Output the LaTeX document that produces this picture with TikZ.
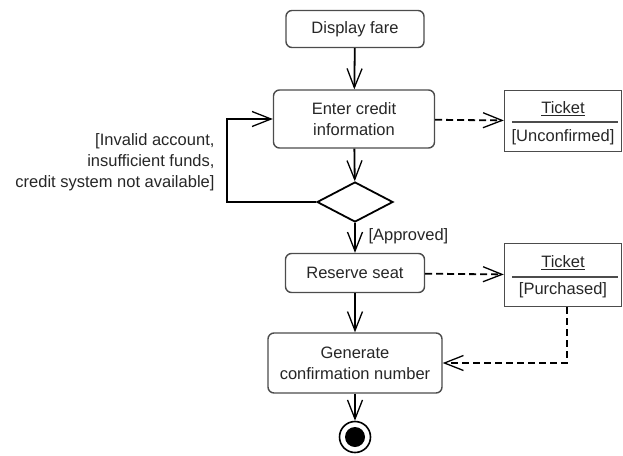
\documentclass[tikz,border=0pt]{standalone}
\usepackage{fontspec}
\setmainfont{Liberation Sans}
\usepackage{tikz}
\usetikzlibrary{arrows.meta, positioning, shapes.geometric}

\begin{document}
\begin{tikzpicture}[
  x=1pt, y=-1pt,
  font=\fontsize{16.5}{21}\selectfont,
  every node/.style={text=black!85},
  act/.style={rectangle, rounded corners=6pt, draw=black!70, line width=1.4pt,
              align=center, inner sep=2pt},
  obj/.style={rectangle, draw=black!70, line width=1.4pt, minimum width=117pt},
  flow/.style={line width=1.8pt, -{Straight Barb[length=19pt, width=15pt, line width=1.3pt]}},
  dep/.style={flow, dash pattern=on 7pt off 4pt},
  ]
  \useasboundingbox (0,0) rectangle (623,455);

  % --- actions ---
  \node[act, minimum width=138pt, minimum height=37pt] (fare)    at (355,29)  {Display fare};
  \node[act, minimum width=161pt, minimum height=58pt] (credit)  at (354,119) {Enter credit\\information};
  \node[diamond, draw, line width=1.8pt, minimum width=76pt, minimum height=40pt,
        inner sep=0pt] (dec) at (355,202) {};
  \node[act, minimum width=139pt, minimum height=39pt] (reserve) at (355,273) {Reserve seat};
  \node[act, minimum width=174pt, minimum height=60pt] (confirm) at (355,363) {Generate\\confirmation number};

  % --- final node ---
  \node[circle, draw, line width=1.6pt, minimum size=31pt, inner sep=0pt] (done) at (355,437) {};
  \node[circle, fill=black, minimum size=20pt, inner sep=0pt] (doneIn) at (done.center) {};

  % --- ticket objects ---
  \node[obj, minimum height=61pt] (tkA) at (563,121) {};
  \node (tkAname)  at (563,109) {\underline{Ticket}};
  \node (tkAstate) at (563,137) {[Unconfirmed]};
  \draw[black!70, line width=1.2pt] ([xshift=8pt]tkA.west |- 0,122) -- ([xshift=-4pt]tkA.east |- 0,122);

  \node[obj, minimum height=63pt] (tkB) at (563,275) {};
  \node (tkBname)  at (563,263) {\underline{Ticket}};
  \node (tkBstate) at (563,290) {[Purchased]};
  \draw[black!70, line width=1.2pt] ([xshift=8pt]tkB.west |- 0,277) -- ([xshift=-4pt]tkB.east |- 0,277);

  % --- control flow ---
  \draw[flow] (fare) -- (credit);
  \draw[flow] (credit) -- (dec);
  \draw[flow] (dec) -- (reserve);
  \draw[flow] (reserve) -- (confirm);
  \draw[flow] (confirm) -- (done);

  % --- retry loop on failure ---
  \coordinate (loopc) at (227,202);
  \draw[flow] (dec.west) -- (loopc) |- (credit.west);
  \node[anchor=east, align=right] (fail) at (218,162)
    {[Invalid account,\\insufficient funds,\\credit system not available]};
  \node[anchor=west] (ok) at (365,236) {[Approved]};

  % --- object flow (dashed) ---
  \draw[dep] (credit) -- (tkA);
  \draw[dep] (reserve) -- (tkB);
  \draw[dep] ([xshift=4pt]tkB.south) |- (confirm.east);

\end{tikzpicture}
\end{document}
